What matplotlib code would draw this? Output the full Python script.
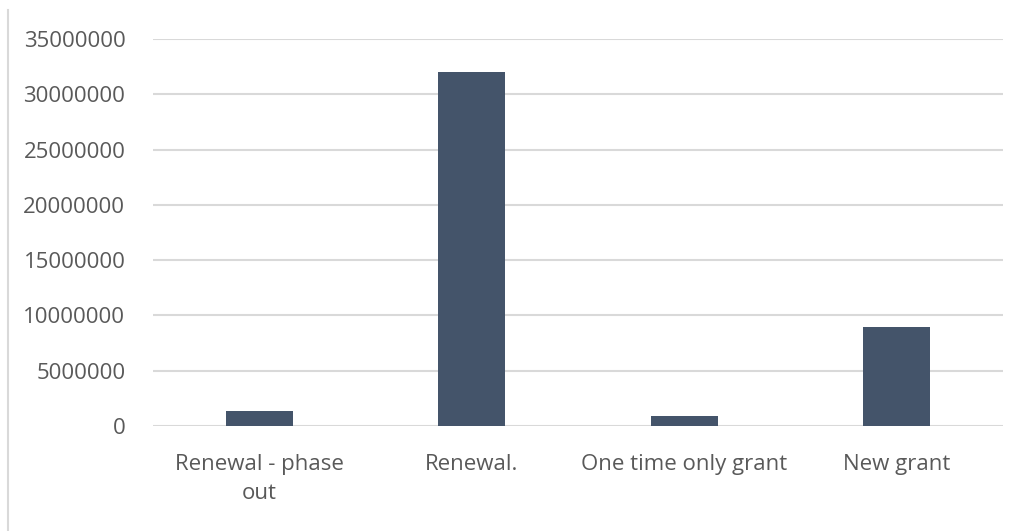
import matplotlib.pyplot as plt
from matplotlib.lines import Line2D

# Data
categories = ['Renewal - phase\nout', 'Renewal.', 'One time only grant', 'New grant']
amounts = [1350000, 32000000, 930000, 8950000]
yticks = [0, 5000000, 10000000, 15000000, 20000000, 25000000, 30000000, 35000000]

bar_color = '#44546A'
grid_color = '#D9D9D9'
text_color = '#595959'

plt.rcParams['font.family'] = ['Open Sans', 'DejaVu Sans']

fig = plt.figure(figsize=(10.21, 5.31), dpi=100)
ax = fig.add_axes([0.15, 0.198, 0.832, 0.7286])

x = range(len(categories))
ax.bar(x, amounts, width=0.315, color=bar_color, zorder=3)

ax.set_xlim(-0.5, len(categories) - 0.5)
ax.set_ylim(0, 35000000)
ax.set_yticks(yticks)
ax.set_yticklabels([str(v) for v in yticks])
ax.set_xticks(list(x))
ax.set_xticklabels(categories, linespacing=1.55)

# Excel-like look: horizontal gridlines only, no spines
ax.grid(axis='y', color=grid_color, linewidth=1.5, zorder=0)
ax.set_axisbelow(True)
for s in ax.spines.values():
    s.set_visible(False)
ax.tick_params(axis='both', length=0, labelsize=16, colors=text_color)
ax.tick_params(axis='y', pad=20)
ax.tick_params(axis='x', pad=20)

# Chart area border on the left
fig.add_artist(Line2D([8 / 1021, 8 / 1021], [0, 1 - 10 / 531],
                      transform=fig.transFigure, color=grid_color, linewidth=1.5))

fig.savefig('out.png', dpi=100)
